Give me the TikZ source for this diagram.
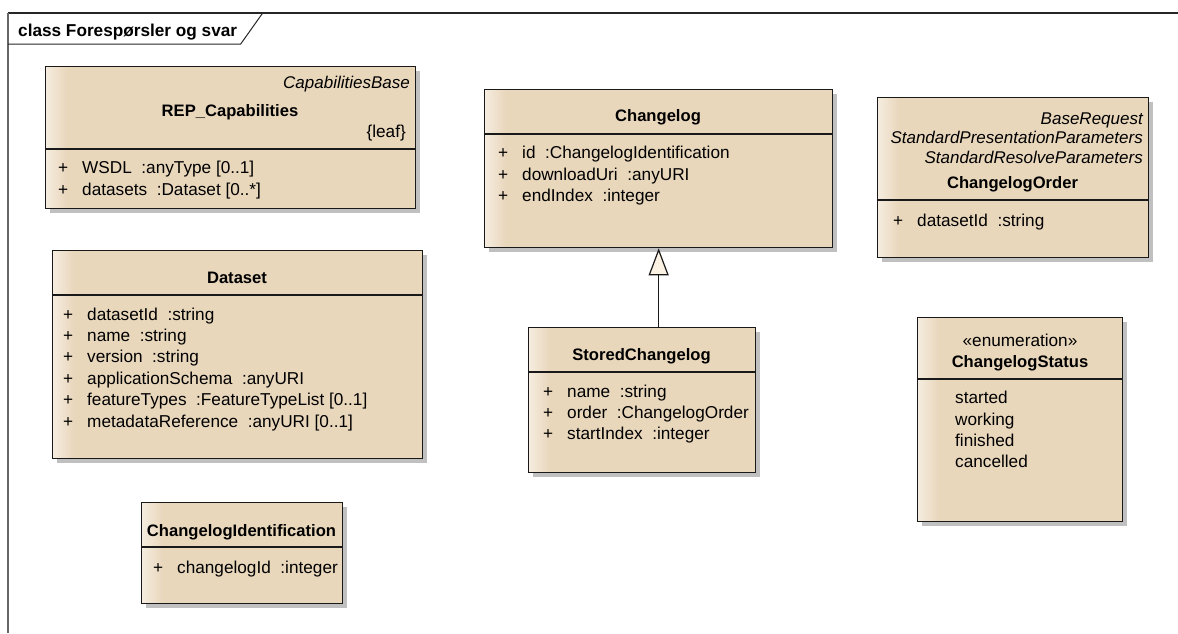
\documentclass[tikz,border=0pt]{standalone}
\usepackage{fontspec}
\setmainfont{Liberation Sans}
\usetikzlibrary{arrows.meta,shadows}

\definecolor{umlfill}{RGB}{233,215,188}
\definecolor{umllight}{RGB}{245,236,223}
\definecolor{umledge}{RGB}{25,25,25}
\definecolor{umlshadow}{RGB}{192,192,192}
\definecolor{tipfill}{RGB}{251,242,228}

% one attribute row: visibility mark, then the attribute text
\newcommand\umlattr[1]{\makebox[24pt][l]{+}#1}

\begin{document}
\begin{tikzpicture}[x=1pt,y=-1pt,
  font=\fontsize{17.2}{20}\selectfont,
  cls/.style={draw=umledge, line width=1.3pt, fill=umlfill, inner sep=0pt, anchor=north west,
    general shadow={fill=umlshadow, shadow xshift=4pt, shadow yshift=-4pt},
    % soft light band along the left edge, built from solid strips
    path picture={\foreach \k in {0,...,10}{
      \fill[umlfill!\k0!umllight]
        ([xshift=\k*2pt]path picture bounding box.south west) rectangle
        ([xshift=\k*2pt+2.3pt]path picture bounding box.north west);}}},
  sepline/.style={draw=umledge, line width=1.3pt},
  txt/.style={inner sep=0pt, anchor=base west},
  stereo/.style={inner sep=0pt, anchor=base east, font=\fontsize{17}{20}\selectfont\itshape},
  title/.style={inner sep=0pt, anchor=base, font=\fontsize{16.6}{20}\selectfont\bfseries},
  plain/.style={inner sep=0pt, anchor=base},
  gen/.style={draw=umledge, line width=1.2pt,
    -{Triangle[length=27pt, width=20pt, fill=tipfill, line width=1.2pt]}}
]
\useasboundingbox (0,0) rectangle (1178,633);

% diagram frame with its name tab
\draw[draw=black!85, line width=1.2pt] (8,13) -- (1178,13);
\draw[draw=black!60, line width=1.6pt] (8,13) -- (8,633);
\draw[draw=black!85, line width=1pt] (8,44) -- (240.7,44) -- (262.7,13);
\node[txt, font=\fontsize{17.2}{20}\selectfont\bfseries] (framelabel) at (18,36) {class Forespørsler og svar};

% REP_Capabilities
\node[cls, minimum width=370, minimum height=142] (rep) at (45,66) {};
\draw[sepline] (45,149) -- (415,149);
\node[stereo] (repst) at (410,88) {CapabilitiesBase};
\node[title] (repname) at (230,116) {REP\_Capabilities};
\node[inner sep=0pt, anchor=base east] (repleaf) at (406,137) {\{leaf\}};
\node[txt] (repa1) at (58,173) {\umlattr{WSDL\ \ :anyType [0..1]}};
\node[txt] (repa2) at (58,195) {\umlattr{datasets\ \ :Dataset [0..*]}};

% Dataset
\node[cls, minimum width=370, minimum height=208] (ds) at (52,250) {};
\draw[sepline] (52,295) -- (422,295);
\node[title] (dsname) at (237,283) {Dataset};
\node[txt] (dsa1) at (63,320) {\umlattr{datasetId\ \ :string}};
\node[txt] (dsa2) at (63,341.4) {\umlattr{name\ \ :string}};
\node[txt] (dsa3) at (63,362.8) {\umlattr{version\ \ :string}};
\node[txt] (dsa4) at (63,384.2) {\umlattr{applicationSchema\ \ :anyURI}};
\node[txt] (dsa5) at (63,405.6) {\umlattr{featureTypes\ \ :FeatureTypeList [0..1]}};
\node[txt] (dsa6) at (63,427) {\umlattr{metadataReference\ \ :anyURI [0..1]}};

% ChangelogIdentification
\node[cls, minimum width=201, minimum height=101] (cid) at (141,502) {};
\draw[sepline] (141,547) -- (342,547);
\node[title] (cidname) at (241.5,536) {ChangelogIdentification};
\node[txt] (cida1) at (153,573) {\umlattr{changelogId\ \ :integer}};

% Changelog
\node[cls, minimum width=348, minimum height=158] (chlog) at (484,89) {};
\draw[sepline] (484,134) -- (832,134);
\node[title] (chlogname) at (658,121.5) {Changelog};
\node[txt] (chloga1) at (498,158.5) {\umlattr{id\ \ :ChangelogIdentification}};
\node[txt] (chloga2) at (498,180) {\umlattr{downloadUri\ \ :anyURI}};
\node[txt] (chloga3) at (498,201.3) {\umlattr{endIndex\ \ :integer}};

% StoredChangelog
\node[cls, minimum width=227, minimum height=145] (stored) at (528,327) {};
\draw[sepline] (528,372) -- (755,372);
\node[title] (storedname) at (641.5,360) {StoredChangelog};
\node[txt] (storeda1) at (543,397) {\umlattr{name\ \ :string}};
\node[txt] (storeda2) at (543,418.4) {\umlattr{order\ \ :ChangelogOrder}};
\node[txt] (storeda3) at (543,439.6) {\umlattr{startIndex\ \ :integer}};

% ChangelogOrder
\node[cls, minimum width=271, minimum height=160] (order) at (877,97) {};
\draw[sepline] (877,200) -- (1148,200);
\node[stereo] (orderst1) at (1143,124) {BaseRequest};
\node[stereo] (orderst2) at (1143,143.5) {StandardPresentationParameters};
\node[stereo] (orderst3) at (1143,163) {StandardResolveParameters};
\node[title] (ordername) at (1012.5,188.5) {ChangelogOrder};
\node[txt] (ordera1) at (893,226) {\umlattr{datasetId\ \ :string}};

% ChangelogStatus
\node[cls, minimum width=205, minimum height=204] (status) at (917,317) {};
\draw[sepline] (917,379) -- (1122,379);
\node[plain] (statusst) at (1020,346) {«enumeration»};
\node[title] (statusname) at (1020,367.5) {ChangelogStatus};
\node[txt] (statusl1) at (955,403.5) {started};
\node[txt] (statusl2) at (955,425) {working};
\node[txt] (statusl3) at (955,446.3) {finished};
\node[txt] (statusl4) at (955,467.8) {cancelled};

% generalization
\draw[gen] (stored.north -| chlog.south) -- (chlog.south);
\end{tikzpicture}
\end{document}
